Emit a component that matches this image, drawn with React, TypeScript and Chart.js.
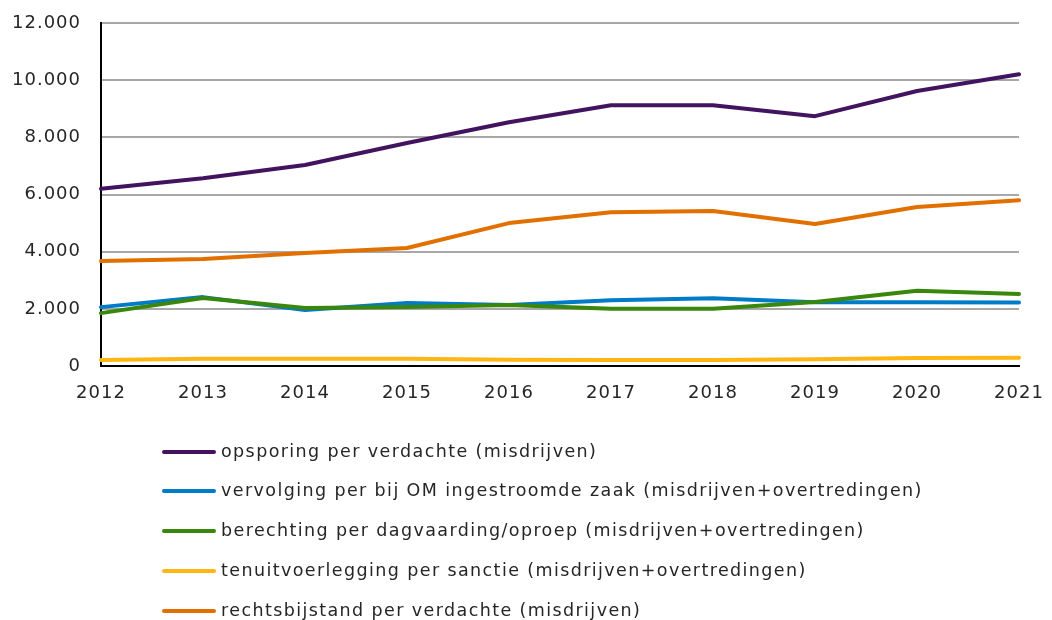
import React, { useEffect, useRef } from "react";
import { Chart, registerables } from "chart.js";

Chart.register(...registerables);

const years = ["2012", "2013", "2014", "2015", "2016", "2017", "2018", "2019", "2020", "2021"];

const labels = [
  "opsporing per verdachte (misdrijven)",
  "vervolging per bij OM ingestroomde zaak (misdrijven+overtredingen)",
  "berechting per dagvaarding/oproep (misdrijven+overtredingen)",
  "tenuitvoerlegging per sanctie (misdrijven+overtredingen)",
  "rechtsbijstand per verdachte (misdrijven)",
];

const opsporing = [6200, 6570, 7030, 7800, 8530, 9120, 9120, 8740, 9620, 10210];
const vervolging = [2060, 2410, 1960, 2200, 2130, 2300, 2370, 2230, 2230, 2220];
const berechting = [1850, 2380, 2030, 2060, 2130, 2000, 2000, 2240, 2630, 2520];
const tenuitvoerlegging = [210, 250, 250, 250, 220, 210, 210, 240, 280, 290];
const rechtsbijstand = [3670, 3740, 3950, 4130, 5000, 5380, 5420, 4970, 5560, 5800];

const colors = ["#42145f", "#007bc7", "#39870c", "#ffb612", "#e17000"];

const yTicks = [0, 2000, 4000, 6000, 8000, 10000, 12000];

const FONT = "'DejaVu Sans', Verdana, sans-serif";
const TEXT = "#262626";

const spacingPlugin = {
  id: "letterSpacing",
  beforeUpdate(chart: any) {
    chart.ctx.letterSpacing = "1px";
  },
  beforeDraw(chart: any) {
    chart.ctx.letterSpacing = "1px";
  },
};

const legendPlugin = {
  id: "verticalLegend",
  afterDraw(chart: any) {
    const ctx = chart.ctx;
    const rows = [452, 491, 531, 571, 611];
    ctx.save();
    ctx.letterSpacing = "1.4px";
    chart.data.datasets.forEach((ds: any, i: number) => {
      const y = rows[i];
      ctx.strokeStyle = ds.borderColor;
      ctx.lineWidth = 4;
      ctx.lineCap = "round";
      ctx.beginPath();
      ctx.moveTo(164, y);
      ctx.lineTo(214, y);
      ctx.stroke();
      ctx.fillStyle = TEXT;
      ctx.font = `17.5px ${FONT}`;
      ctx.textBaseline = "middle";
      ctx.textAlign = "left";
      ctx.fillText(ds.label, 221, y);
    });
    ctx.restore();
  },
};

export default function App() {
  const ref = useRef<HTMLCanvasElement | null>(null);

  useEffect(() => {
    if (!ref.current) return;
    const series = [opsporing, vervolging, berechting, tenuitvoerlegging, rechtsbijstand];
    const chart = new Chart(ref.current, {
      type: "line",
      data: {
        labels: years,
        datasets: series.map((d, i) => ({
          label: labels[i],
          data: d,
          borderColor: colors[i],
          backgroundColor: colors[i],
          borderWidth: 4,
          pointRadius: 0,
          pointHoverRadius: 0,
          tension: 0,
          fill: false,
          borderCapStyle: "round" as const,
          borderJoinStyle: "round" as const,
          order: series.length - i,
        })),
      },
      options: {
        animation: false,
        responsive: false,
        maintainAspectRatio: false,
        layout: { padding: { top: 23, right: 33, left: 0, bottom: 0 } },
        plugins: {
          legend: { display: false },
          tooltip: { enabled: false },
          title: { display: false },
        },
        scales: {
          x: {
            offset: false,
            grid: { display: false, drawTicks: false },
            border: { display: true, color: "#000000", width: 2 },
            ticks: {
              color: TEXT,
              font: { family: FONT, size: 18 },
              padding: 17,
              maxRotation: 0,
              autoSkip: false,
            },
            afterFit: (s: any) => {
              s.height = 620 - 366;
              s.paddingLeft = 0;
              s.paddingRight = 0;
            },
          },
          y: {
            min: 0,
            max: 12000,
            afterBuildTicks: (s: any) => {
              s.ticks = yTicks.map((v) => ({ value: v }));
            },
            grid: {
              drawTicks: false,
              lineWidth: 2,
              color: (c: any) => (c.tick && c.tick.value === 0 ? "rgba(0,0,0,0)" : "#a8a8a8"),
            },
            border: { display: true, color: "#000000", width: 2 },
            ticks: {
              color: TEXT,
              font: { family: FONT, size: 18 },
              padding: 20,
              callback: (v: any) => Number(v).toLocaleString("de-DE"),
            },
            afterFit: (s: any) => {
              s.width = 101;
              s.paddingTop = 0;
              s.paddingBottom = 0;
            },
          },
        },
      },
      plugins: [spacingPlugin, legendPlugin],
    });
    return () => chart.destroy();
  }, []);

  return (
    <div style={{ position: "fixed", left: 0, top: 0, width: 1052, height: 620, background: "#fff" }}>
      <canvas ref={ref} width={1052} height={620} style={{ display: "block" }} />
    </div>
  );
}
